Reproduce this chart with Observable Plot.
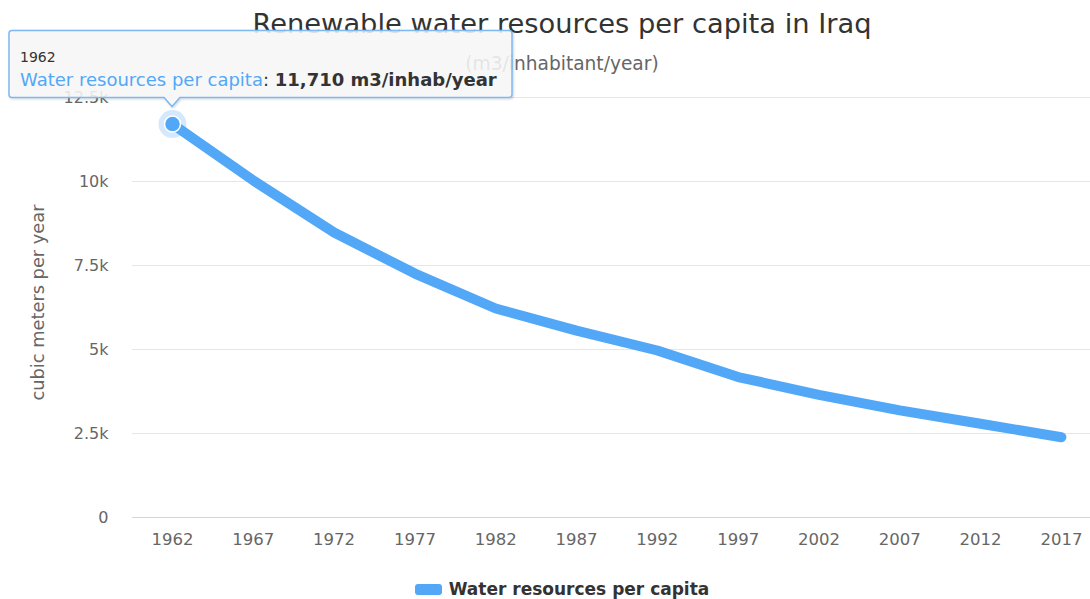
<!DOCTYPE html>
<html>
<head>
<meta charset="utf-8">
<script src="https://cdn.jsdelivr.net/npm/d3@7"></script>
<script src="https://cdn.jsdelivr.net/npm/@observablehq/plot@0.6"></script>
<style>
  html, body { margin: 0; padding: 0; background: #fff; }
  body { font-family: "Lucida Grande", "DejaVu Sans", Verdana, sans-serif; }
  #chart { position: relative; width: 1090px; height: 599px; overflow: hidden; }
  #head { position: relative; width: 1124px; height: 90px; text-align: center; }
  #title { position: absolute; left: 0; right: 0; top: 10px; font-size: 27.3px; color: #333; line-height: 1; }
  #subtitle { position: absolute; left: 0; right: 0; top: 55px; font-size: 18.6px; color: #666; line-height: 1; }
  #legend { position: absolute; left: 0; top: 581px; width: 1124px; display: flex; justify-content: center; align-items: center; }
  #legend .sym { width: 27px; height: 11px; border-radius: 3px; margin-right: 7px; }
  #legend .lab { font-weight: bold; font-size: 17px; color: #333; line-height: 1; }
  #tip { position: absolute; left: 0; top: 0; pointer-events: none; }
</style>
</head>
<body>
<div id="chart">
  <div id="head">
    <div id="title">Renewable water resources per capita in Iraq</div>
    <div id="subtitle">(m3/inhabitant/year)</div>
  </div>
  <div id="plot"></div>
  <div id="legend"><span class="sym"></span><span class="lab">Water resources per capita</span></div>
</div>
<script>
// Renewable water resources per capita in Iraq, every five years
const years = [1962, 1967, 1972, 1977, 1982, 1987, 1992, 1997, 2002, 2007, 2012, 2017];
const values = [11710, 10030, 8480, 7260, 6220, 5560, 4970, 4180, 3650, 3190, 2790, 2390];
const yTicks = [0, 2500, 5000, 7500, 10000, 12500];
const yTickLabels = ["0", "2.5k", "5k", "7.5k", "10k", "12.5k"];
const seriesName = "Water resources per capita";
const unit = "m3/inhab/year";

const color = "#52a8f7";
const font = '"Lucida Grande", "DejaVu Sans", Verdana, sans-serif';
const data = years.map((year, i) => ({year, value: values[i]}));

const headH = 90;
const plot = Plot.plot({
  width: 1090,
  height: 470,
  marginTop: 7,
  marginLeft: 132,
  marginRight: 0,
  marginBottom: 43,
  style: {fontFamily: font, background: "transparent", overflow: "visible"},
  x: {domain: [1959.525, 2018.8]},
  y: {domain: [0, 12500]},
  marks: [
    Plot.gridY(yTicks.slice(1), {stroke: "#e6e6e6", strokeOpacity: 1, strokeWidth: 1}),
    Plot.ruleY([0], {stroke: "#ccd6eb", strokeWidth: 1}),
    Plot.axisY(yTicks, {
      tickSize: 0, tickPadding: 24, fontSize: 16, fill: "#666",
      tickFormat: (d) => yTickLabels[yTicks.indexOf(d)], label: null
    }),
    Plot.axisX(years, {
      tickSize: 0, tickPadding: 16, fontSize: 16.5, fill: "#666",
      tickFormat: (d) => String(d), label: null
    }),
    Plot.text(["cubic meters per year"], {
      frameAnchor: "left", textAnchor: "middle", dx: -94, dy: -5, rotate: -90,
      fontSize: 17.8, fill: "#666"
    }),
    Plot.line(data, {
      x: "year", y: "value", stroke: color, strokeWidth: 10,
      strokeLinejoin: "round", strokeLinecap: "round"
    }),
    Plot.dot([data[0]], {x: "year", y: "value", r: 14, fill: color, fillOpacity: 0.25}),
    Plot.dot([data[0]], {x: "year", y: "value", r: 8, fill: color, stroke: "#fff", strokeWidth: 1.5})
  ]
});
document.getElementById("plot").appendChild(plot);
document.querySelector("#legend .sym").style.background = color;

// Hover callout for the first point, anchored via the plot's own scales
const px = plot.scale("x").apply(data[0].year);
const py = plot.scale("y").apply(data[0].value) + headH;

const boxW = 503, boxH = 67;
const bx = px - 163, by = py - 26 - boxH;
const tipX = px, tipY = py - 17;
const svg = d3.select("#chart").append("svg")
  .attr("id", "tip").attr("width", 1090).attr("height", 599);

const r = 3, aw = 8;
const bb = by + boxH;
const path = [
  `M${bx + r},${by}`, `H${bx + boxW - r}`, `Q${bx + boxW},${by} ${bx + boxW},${by + r}`,
  `V${bb - r}`, `Q${bx + boxW},${bb} ${bx + boxW - r},${bb}`,
  `H${tipX + aw}`, `L${tipX},${tipY}`, `L${tipX - aw},${bb}`,
  `H${bx + r}`, `Q${bx},${bb} ${bx},${bb - r}`, `V${by + r}`, `Q${bx},${by} ${bx + r},${by}`, "Z"
].join(" ");

const defs = svg.append("defs");
const f = defs.append("filter").attr("id", "sh").attr("x", "-5%").attr("y", "-20%").attr("width", "110%").attr("height", "150%");
f.append("feDropShadow").attr("dx", 1).attr("dy", 1).attr("stdDeviation", 1.2).attr("flood-color", "#000").attr("flood-opacity", 0.18);

svg.append("path").attr("d", path)
  .attr("fill", "rgba(249,249,249,0.85)")
  .attr("stroke", "#7db8f0").attr("stroke-width", 1.5)
  .attr("filter", "url(#sh)");

svg.append("text").attr("x", bx + 11).attr("y", by + 31)
  .attr("font-family", font).attr("font-size", 14).attr("fill", "#333")
  .text(String(data[0].year));

const line2 = svg.append("text").attr("x", bx + 11).attr("y", by + 55)
  .attr("font-family", font).attr("font-size", 18).attr("fill", "#333");
line2.append("tspan").attr("fill", color).text(seriesName);
line2.append("tspan").text(": ");
line2.append("tspan").attr("font-weight", "bold")
  .text(d3.format(",")(data[0].value) + " " + unit);
</script>
</body>
</html>
